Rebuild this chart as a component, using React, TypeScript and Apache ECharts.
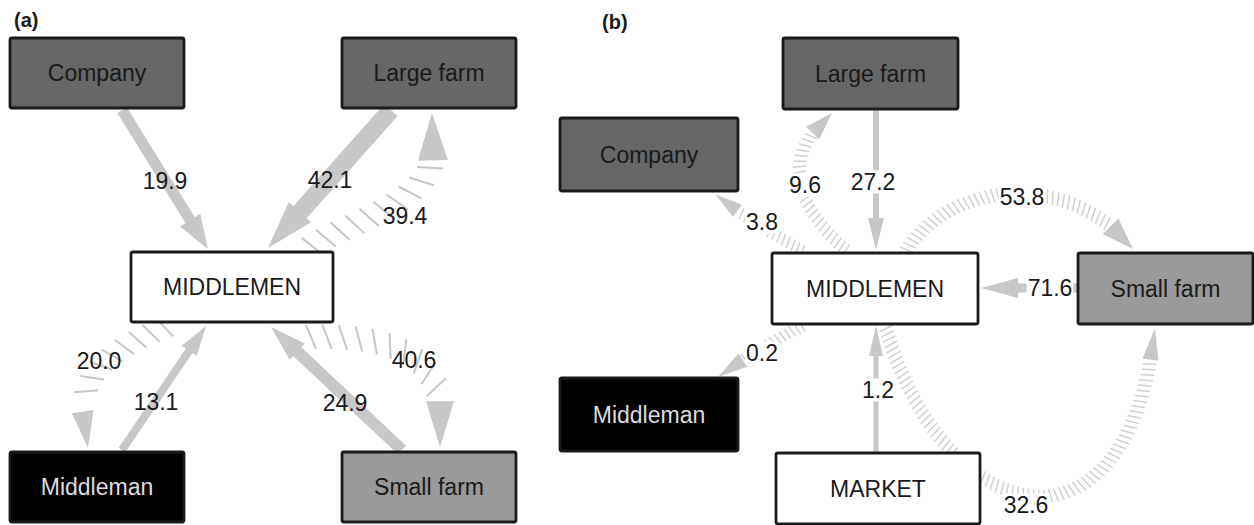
import React, { useEffect, useRef } from "react";
import * as echarts from "echarts";

// ---------------- DATA ----------------
const panelTitles = ["(a)", "(b)"];

// Panel (a)
const nodesA = ["Company", "Large farm", "MIDDLEMEN", "Middleman", "Small farm"];
const flowSourceA = ["Company", "Large farm", "MIDDLEMEN", "MIDDLEMEN", "Middleman", "Small farm", "MIDDLEMEN"];
const flowTargetA = ["MIDDLEMEN", "MIDDLEMEN", "Large farm", "Middleman", "MIDDLEMEN", "MIDDLEMEN", "Small farm"];
const flowValuesA = [19.9, 42.1, 39.4, 20.0, 13.1, 24.9, 40.6];
const flowKindsA = ["solid", "solid", "hatched", "hatched", "solid", "solid", "hatched"];

// Panel (b)
const nodesB = ["Large farm", "Company", "MIDDLEMEN", "Small farm", "Middleman", "MARKET"];
const flowSourceB = ["Large farm", "MIDDLEMEN", "MIDDLEMEN", "MIDDLEMEN", "Small farm", "MIDDLEMEN", "MARKET", "MIDDLEMEN"];
const flowTargetB = ["MIDDLEMEN", "Large farm", "Company", "Small farm", "MIDDLEMEN", "Middleman", "MIDDLEMEN", "Small farm"];
const flowValuesB = [27.2, 9.6, 3.8, 53.8, 71.6, 0.2, 1.2, 32.6];
const flowKindsB = ["solid", "hatched", "hatched", "hatched", "solid", "hatched", "solid", "hatched"];

// ---------------- LAYOUT / STYLE ----------------
const W = 1254;
const H = 525;
const FONT = '"Liberation Sans", Arial, Helvetica, sans-serif';

const boxLayout: Record<string, number[]>[] = [
  {
    Company: [10, 38, 174, 70],
    "Large farm": [342, 38, 174, 70],
    MIDDLEMEN: [131, 252, 202, 70],
    Middleman: [10, 452, 174, 70],
    "Small farm": [342, 452, 174, 70],
  },
  {
    "Large farm": [783, 38, 175, 71],
    Company: [560, 118, 178, 73],
    MIDDLEMEN: [772, 253, 206, 71],
    "Small farm": [1078, 253, 175, 71],
    Middleman: [560, 378, 178, 73],
    MARKET: [776, 453, 204, 71],
  },
];

const boxFill: Record<string, string> = {
  Company: "#666666",
  "Large farm": "#666666",
  "Small farm": "#999999",
  Middleman: "#000000",
  MIDDLEMEN: "#ffffff",
  MARKET: "#ffffff",
};
const boxTextColor: Record<string, string> = {
  Middleman: "#dddddd",
};

type Geom = {
  pts: number[][];
  label: number[];
  shaft?: number;
  head: number[]; // [length, width]
  tick?: number;
  spacing?: number;
};

const geomA: Geom[] = [
  { pts: [[122, 110], [208, 249]], shaft: 11, head: [34, 24], label: [165, 181] },
  { pts: [[391, 110], [268, 248]], shaft: 18, head: [48, 30], label: [330, 180] },
  { pts: [[305, 250], [370, 210], [455, 200], [432, 113]], tick: 26, spacing: 16, head: [48, 30], label: [405, 216] },
  { pts: [[172, 325], [120, 345], [65, 370], [88, 448]], tick: 24, spacing: 15, head: [37, 22], label: [99, 361] },
  { pts: [[122, 450], [206, 326]], shaft: 8, head: [30, 18], label: [156, 402] },
  { pts: [[402, 450], [271, 327]], shaft: 12, head: [36, 22], label: [345, 403] },
  { pts: [[303, 337], [380, 335], [455, 345], [440, 447]], tick: 26, spacing: 16, head: [46, 28], label: [414, 360] },
];

const geomB: Geom[] = [
  { pts: [[876, 110], [876, 250]], shaft: 6, head: [32, 16], label: [873, 182] },
  { pts: [[848, 252], [800, 210], [775, 160], [832, 113]], tick: 13, spacing: 5.5, head: [28, 18], label: [805, 185] },
  { pts: [[805, 252], [775, 235], [745, 218], [715, 194]], tick: 12, spacing: 5.5, head: [28, 15], label: [762, 222] },
  { pts: [[905, 252], [950, 180], [1070, 170], [1133, 249]], tick: 14, spacing: 5.5, head: [32, 22], label: [1022, 197] },
  { pts: [[1078, 288], [981, 288]], shaft: 9, head: [37, 20], label: [1050, 288] },
  { pts: [[805, 326], [780, 335], [750, 355], [718, 377]], tick: 12, spacing: 5.5, head: [30, 16], label: [762, 353] },
  { pts: [[876, 452], [876, 326]], shaft: 5, head: [30, 14], label: [878, 390] },
  { pts: [[885, 326], [945, 535], [1130, 570], [1155, 328]], tick: 14, spacing: 5.5, head: [32, 16], label: [1026, 505] },
];

const panelStyle = [
  { tickWidth: 2, tickColor: "#c6c6c6", skew: (-22 * Math.PI) / 180, labelBg: "transparent" },
  { tickWidth: 1.5, tickColor: "#d0d0d0", skew: (-10 * Math.PI) / 180, labelBg: "#ffffff" },
];

const ARROW_COLOR = "#c8c8c8";

// ---------------- BUILD ----------------
type Flow = { panel: number; source: string; target: string; value: number; kind: string; geom: Geom };
const flows: Flow[] = [
  ...flowValuesA.map((v, i) => ({ panel: 0, source: flowSourceA[i], target: flowTargetA[i], value: v, kind: flowKindsA[i], geom: geomA[i] })),
  ...flowValuesB.map((v, i) => ({ panel: 1, source: flowSourceB[i], target: flowTargetB[i], value: v, kind: flowKindsB[i], geom: geomB[i] })),
];
const nodes = [...nodesA.map((n) => ({ panel: 0, name: n })), ...nodesB.map((n) => ({ panel: 1, name: n }))];

function bez(P: number[][], t: number): number[] {
  const u = 1 - t;
  const a = u * u * u, b = 3 * u * u * t, c = 3 * u * t * t, d = t * t * t;
  return [
    a * P[0][0] + b * P[1][0] + c * P[2][0] + d * P[3][0],
    a * P[0][1] + b * P[1][1] + c * P[2][1] + d * P[3][1],
  ];
}

function sample(P: number[][], n = 300) {
  const pts: number[][] = [];
  const cum: number[] = [];
  let acc = 0;
  for (let i = 0; i <= n; i++) {
    const p = bez(P, i / n);
    if (i > 0) {
      const q = pts[i - 1];
      acc += Math.hypot(p[0] - q[0], p[1] - q[1]);
    }
    pts.push(p);
    cum.push(acc);
  }
  return { pts, cum, total: acc };
}

function atLen(S: { pts: number[][]; cum: number[] }, s: number) {
  const { pts, cum } = S;
  let i = 1;
  while (i < cum.length - 1 && cum[i] < s) i++;
  const a = pts[i - 1], b = pts[i];
  const seg = cum[i] - cum[i - 1] || 1;
  const f = Math.max(0, Math.min(1, (s - cum[i - 1]) / seg));
  const dx = b[0] - a[0], dy = b[1] - a[1];
  const len = Math.hypot(dx, dy) || 1;
  return { pt: [a[0] + dx * f, a[1] + dy * f], dir: [dx / len, dy / len] };
}

function renderFlow(params: any, api: any) {
  const f = flows[api.value(0)];
  const g = f.geom;
  const P = g.pts.map((p) => api.coord(p));
  const children: any[] = [];
  if (f.kind === "solid") {
    const s = P[0], tip = P[1];
    const dx = tip[0] - s[0], dy = tip[1] - s[1];
    const len = Math.hypot(dx, dy);
    const d = [dx / len, dy / len];
    const n = [-d[1], d[0]];
    const [hl, hw] = g.head;
    const base = [tip[0] - d[0] * hl, tip[1] - d[1] * hl];
    const sw = (g.shaft || 6) / 2;
    const pts = [
      [s[0] + n[0] * sw, s[1] + n[1] * sw],
      [base[0] + n[0] * sw, base[1] + n[1] * sw],
      [base[0] + n[0] * hw / 2, base[1] + n[1] * hw / 2],
      tip,
      [base[0] - n[0] * hw / 2, base[1] - n[1] * hw / 2],
      [base[0] - n[0] * sw, base[1] - n[1] * sw],
      [s[0] - n[0] * sw, s[1] - n[1] * sw],
    ];
    children.push({ type: "polygon", shape: { points: pts }, style: { fill: ARROW_COLOR } });
  } else {
    const st = panelStyle[f.panel];
    const S = sample(P);
    const [hl, hw] = g.head;
    const endS = S.total - hl;
    const sp = g.spacing || 10;
    const h = (g.tick || 12) / 2;
    const c = Math.cos(st.skew), sn = Math.sin(st.skew);
    for (let s = sp * 0.5; s <= endS - sp * 0.4; s += sp) {
      const { pt, dir } = atLen(S, s);
      const nx = -dir[1], ny = dir[0];
      const rx = nx * c - ny * sn, ry = nx * sn + ny * c;
      children.push({
        type: "line",
        shape: { x1: pt[0] - rx * h, y1: pt[1] - ry * h, x2: pt[0] + rx * h, y2: pt[1] + ry * h },
        style: { stroke: st.tickColor, lineWidth: st.tickWidth },
      });
    }
    const tip = P[P.length - 1];
    const base = atLen(S, endS).pt;
    const dx = tip[0] - base[0], dy = tip[1] - base[1];
    const len = Math.hypot(dx, dy) || 1;
    const n = [-dy / len, dx / len];
    children.push({
      type: "polygon",
      shape: {
        points: [
          tip,
          [base[0] + n[0] * hw / 2, base[1] + n[1] * hw / 2],
          [base[0] - n[0] * hw / 2, base[1] - n[1] * hw / 2],
        ],
      },
      style: { fill: ARROW_COLOR },
    });
  }
  return { type: "group", children };
}

function renderBox(params: any, api: any) {
  const nd = nodes[api.value(0)];
  const [x, y, w, h] = boxLayout[nd.panel][nd.name];
  const p0 = api.coord([x, y]);
  const p1 = api.coord([x + w, y + h]);
  return {
    type: "group",
    children: [
      {
        type: "rect",
        shape: { x: p0[0], y: p0[1], width: p1[0] - p0[0], height: p1[1] - p0[1], r: 2 },
        style: { fill: boxFill[nd.name], stroke: "#1a1a1a", lineWidth: 2.8 },
      },
      {
        type: "text",
        x: (p0[0] + p1[0]) / 2,
        y: (p0[1] + p1[1]) / 2,
        style: {
          text: nd.name,
          fill: boxTextColor[nd.name] || "#1a1a1a",
          fontSize: 23,
          fontFamily: FONT,
          align: "center",
          verticalAlign: "middle",
        },
      },
    ],
  };
}

function renderLabel(params: any, api: any) {
  const f = flows[api.value(0)];
  const p = api.coord(f.geom.label);
  const st = panelStyle[f.panel];
  return {
    type: "text",
    x: p[0],
    y: p[1],
    style: {
      text: f.value.toFixed(1),
      fill: "#1a1a1a",
      fontSize: 23,
      fontFamily: FONT,
      align: "center",
      verticalAlign: "middle",
      backgroundColor: st.labelBg,
      padding: [0, 1],
    },
  };
}

const option: any = {
  animation: false,
  backgroundColor: "#ffffff",
  title: [
    { text: panelTitles[0], left: 14, top: 10, padding: 0, textStyle: { fontSize: 20, fontWeight: "bold", fontFamily: FONT, color: "#1a1a1a" } },
    { text: panelTitles[1], left: 602, top: 12, padding: 0, textStyle: { fontSize: 20, fontWeight: "bold", fontFamily: FONT, color: "#1a1a1a" } },
  ],
  grid: { left: 0, right: 0, top: 0, bottom: 0 },
  xAxis: { type: "value", min: 0, max: W, show: false },
  yAxis: { type: "value", min: 0, max: H, inverse: true, show: false },
  series: [
    {
      type: "custom",
      name: "flows",
      z: 1,
      silent: true,
      renderItem: renderFlow,
      data: flows.map((f, i) => [i, f.value]),
    },
    {
      type: "custom",
      name: "nodes",
      z: 2,
      silent: true,
      renderItem: renderBox,
      data: nodes.map((n, i) => [i, 0]),
    },
    {
      type: "custom",
      name: "labels",
      z: 3,
      silent: true,
      renderItem: renderLabel,
      data: flows.map((f, i) => [i, f.value]),
    },
  ],
};

export default function App() {
  const ref = useRef<HTMLDivElement>(null);
  useEffect(() => {
    document.body.style.margin = "0";
    const chart = echarts.init(ref.current as HTMLDivElement, null, { renderer: "svg" });
    chart.setOption(option);
    return () => chart.dispose();
  }, []);
  return <div ref={ref} style={{ width: W, height: H, background: "#fff" }} />;
}
